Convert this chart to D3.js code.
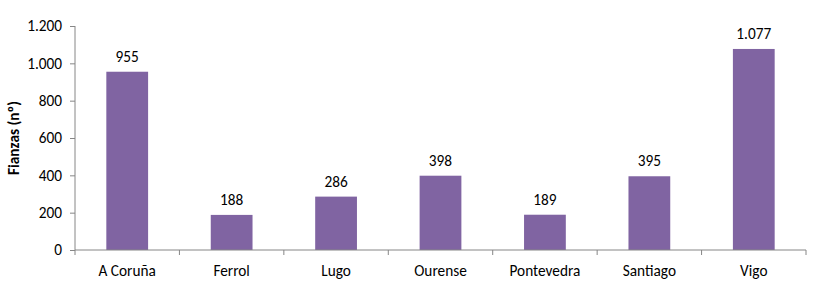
<!DOCTYPE html>
<html>
<head>
<meta charset="UTF-8" />
<title>Fianzas</title>
<script src="https://d3js.org/d3.v7.min.js"></script>
<style>
body { margin: 0; background: #fff; }
text { font-family: Carlito, "Open Sans", "Noto Sans", sans-serif; }
</style>
</head>
<body>
<svg id="chart"></svg>
<script>
// data
var cities = ["A Coruña", "Ferrol", "Lugo", "Ourense", "Pontevedra", "Santiago", "Vigo"]
var fianzas = [955, 188, 286, 398, 189, 395, 1077]
var yTicks = [0, 200, 400, 600, 800, 1000, 1200]

var barColor = "#8064A2"
var axisColor = "#868686"
var W = 819, H = 288
var m = {top: 26, right: 13, bottom: 38, left: 75}
var fs = "15.3px"

var fmt = d3.formatLocale({decimal: ",", thousands: ".", grouping: [3], currency: ["", "€"]}).format(",d")

var svg = d3.select("#chart").attr("width", W).attr("height", H)

var x = d3.scaleBand().domain(cities).range([m.left, W - m.right]).paddingInner(0.6).paddingOuter(0.3)
var y = d3.scaleLinear().domain([0, 1200]).range([H - m.bottom, m.top])

// bars
svg.selectAll(".bar")
	.data(cities)
	.enter()
	.append("rect")
	.attr("class", "bar")
	.attr("x", d => x(d))
	.attr("width", x.bandwidth())
	.attr("y", (d, i) => y(fianzas[i]))
	.attr("height", (d, i) => y(0) - y(fianzas[i]))
	.attr("fill", barColor)

// value labels
svg.selectAll(".lbl")
	.data(cities)
	.enter()
	.append("text")
	.attr("class", "lbl")
	.attr("x", d => x(d) + x.bandwidth() / 2)
	.attr("y", (d, i) => y(fianzas[i]) - 10)
	.attr("text-anchor", "middle")
	.style("font-size", fs)
	.attr("fill", "#000")
	.text((d, i) => fmt(fianzas[i]))

// y axis
var yAxis = d3.axisLeft(y).tickValues(yTicks).tickFormat(fmt).tickSize(5).tickPadding(8)
var gy = svg.append("g").attr("transform", "translate(" + m.left + ",0)").call(yAxis)
gy.selectAll("path, line").attr("stroke", axisColor)
gy.select(".domain").attr("d", "M0," + y(1200) + "V" + y(0))
gy.selectAll("text").style("font-size", fs).attr("fill", "#000").style("font-family", null)

// x axis with ticks between categories
var step = x.step()
var gx = svg.append("g").attr("transform", "translate(0," + y(0) + ")")
gx.append("line").attr("x1", m.left).attr("x2", W - m.right).attr("stroke", axisColor)
gx.selectAll(".xt")
	.data(d3.range(cities.length + 1))
	.enter()
	.append("line")
	.attr("x1", i => m.left + i * step)
	.attr("x2", i => m.left + i * step)
	.attr("y1", 0).attr("y2", 5)
	.attr("stroke", axisColor)
gx.selectAll(".xl")
	.data(cities)
	.enter()
	.append("text")
	.attr("x", d => x(d) + x.bandwidth() / 2)
	.attr("y", 26)
	.attr("text-anchor", "middle")
	.style("font-size", fs)
	.text(d => d)

// axis title
svg.append("text")
	.attr("transform", "translate(19," + ((y(0) + y(1200)) / 2) + ") rotate(-90)")
	.attr("text-anchor", "middle")
	.style("font-size", fs)
	.style("font-weight", "bold")
	.text("Fianzas (nº)")
</script>
</body>
</html>
